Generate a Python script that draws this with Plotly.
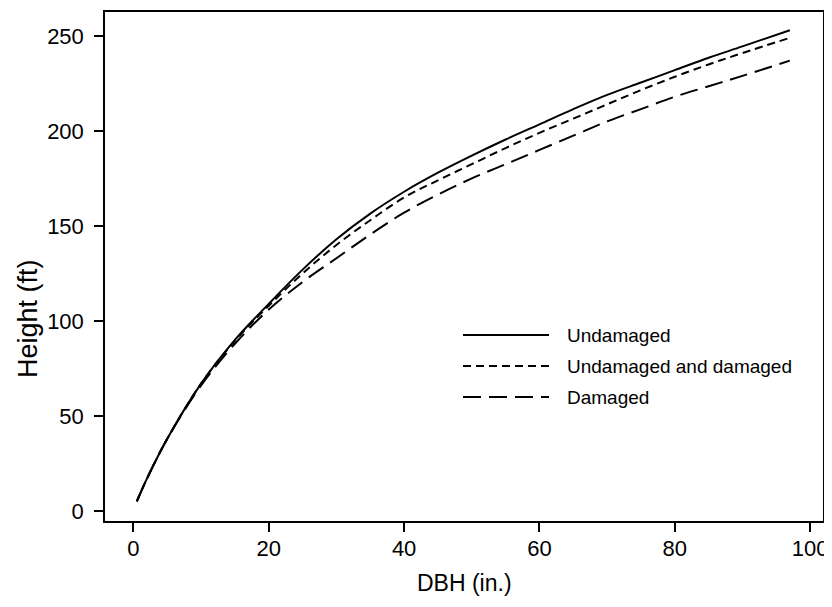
import plotly.graph_objects as go

dbh = [0.5, 2, 5, 10, 15, 20, 25, 30, 35, 40, 45, 50, 55, 60, 65, 70, 75, 80, 85, 90, 97]

# Height (ft) for each model
h_undamaged = [5, 17, 38, 67, 90, 109, 127, 143, 156.5, 168, 178, 187, 195.5, 203.5, 211.5, 219, 225.5, 232, 238.5, 244.5, 253]
h_both = [5, 17, 38, 67, 89.5, 108, 125, 140, 153, 165, 174, 182.5, 191, 199, 206.5, 214, 221.5, 228.5, 235, 241, 249]
h_damaged = [5, 17, 38, 66, 88, 106, 120.5, 133, 145.5, 157, 166.5, 175, 182.5, 190, 197.5, 205, 211.5, 218, 223.5, 229, 237]

series_names = ["Undamaged", "Undamaged and damaged", "Damaged"]
series_values = [h_undamaged, h_both, h_damaged]
series_dash = ["solid", "8px,5px", "18px,8px"]

x_ticks = [0, 20, 40, 60, 80, 100]
y_ticks = [0, 50, 100, 150, 200, 250]

FONT = "Liberation Sans, Arial, Helvetica, sans-serif"

fig = go.Figure()
for name, vals, dash in zip(series_names, series_values, series_dash):
    fig.add_trace(go.Scatter(
        x=dbh, y=vals, mode="lines", name=name,
        line=dict(color="black", width=2, dash=dash, shape="spline", smoothing=1.0),
        showlegend=False,
    ))

# Manual legend (paper coordinates)
legend_rows_y = [0.3654, 0.3045, 0.2436]
for name, dash, yy in zip(series_names, series_dash, legend_rows_y):
    fig.add_shape(type="line", xref="paper", yref="paper",
                  x0=0.4986, x1=0.6184, y0=yy, y1=yy,
                  line=dict(color="black", width=2, dash=dash))
    fig.add_annotation(xref="paper", yref="paper", x=0.6407, y=yy,
                       text=name, showarrow=False, xanchor="left", yanchor="middle",
                       font=dict(family=FONT, size=19, color="black"))

# Axis titles
fig.add_annotation(xref="paper", yref="paper", x=0.5, y=-0.1218, text="DBH (in.)",
                   showarrow=False, xanchor="center", yanchor="middle",
                   font=dict(family=FONT, size=23, color="black"))
fig.add_annotation(xref="paper", yref="paper", x=-0.1072, y=0.397, text="Height (ft)",
                   showarrow=False, xanchor="center", yanchor="middle", textangle=-90,
                   font=dict(family=FONT, size=27, color="black"))

# page has an 8px body margin; the figure is sized to fill the rest of the window
fig.update_layout(
    width=824, height=599,
    margin=dict(l=97, r=9, t=4, b=86, autoexpand=False),
    paper_bgcolor="white", plot_bgcolor="white",
    font=dict(family=FONT, size=22, color="black"),
    showlegend=False,
)
fig.update_xaxes(
    range=[-4.2, 101.9], tickvals=x_ticks, ticks="outside", ticklen=9, tickwidth=1.5,
    tickcolor="black", showline=True, linecolor="black", linewidth=1.5, mirror=True,
    showgrid=False, zeroline=False, automargin=False, ticklabelstandoff=-2,
    tickfont=dict(size=22),
)
fig.update_yaxes(
    range=[-5.3, 262.6], tickvals=y_ticks, ticks="outside", ticklen=9, tickwidth=1.5,
    tickcolor="black", showline=True, linecolor="black", linewidth=1.5, mirror=True,
    showgrid=False, zeroline=False, automargin=False, ticklabelstandoff=6,
    tickfont=dict(size=22),
)

fig.write_html("out.html")
